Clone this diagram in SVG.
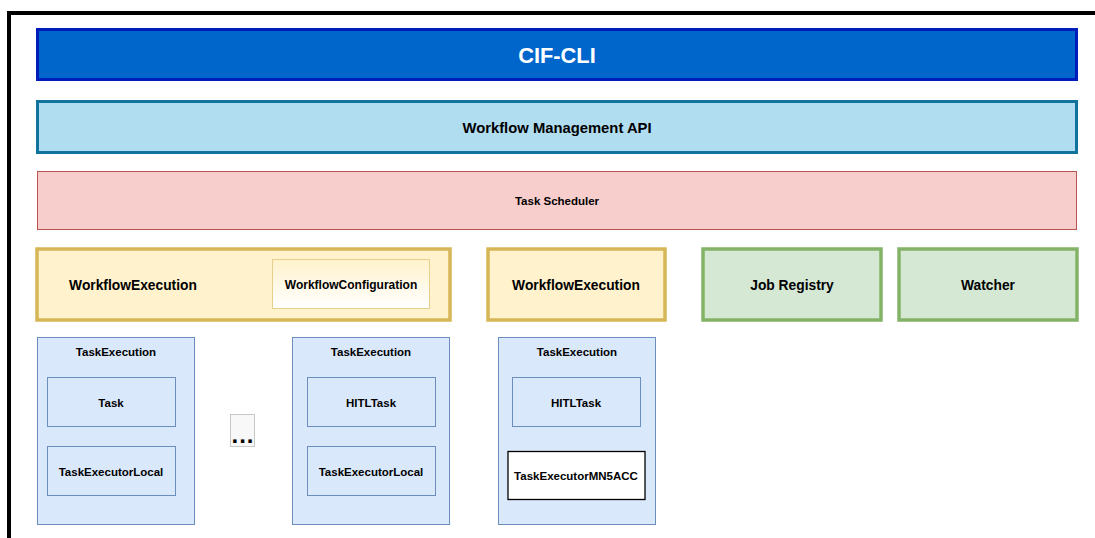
<svg xmlns="http://www.w3.org/2000/svg" width="1095" height="538" viewBox="0 0 1095 538">
<style>
text{font-family:"Liberation Sans",Arial,sans-serif;font-weight:bold;text-anchor:middle;dominant-baseline:central;fill:#000}
.te{fill:#DAE8FC;stroke:#6C8EBF;stroke-width:1}
.ti{fill:#DAE8FC;stroke:#6C8EBF;stroke-width:1}
.we{fill:#FFF2CC;stroke:#D6B656;stroke-width:3.5}
.gr{fill:#D5E8D4;stroke:#82B366;stroke-width:3.5}
.s11{font-size:11.5px}
.s14{font-size:13.8px}
</style>
<defs>
<linearGradient id="wcg" x1="0" y1="0" x2="0" y2="1">
<stop offset="0" stop-color="#FFF2CC"/>
<stop offset="1" stop-color="#FFFFFF"/>
</linearGradient>
</defs>
<rect width="1095" height="538" fill="#FFFFFF"/>
<path d="M9,540 V13 H1097" fill="none" stroke="#000" stroke-width="4"/>
<g id="cif-cli">
<rect x="37.5" y="29.5" width="1039" height="50" fill="#0066CC" stroke="#001DBC" stroke-width="3"/>
<text x="557" y="55" style="font-size:21.8px;fill:#FFFFFF">CIF-CLI</text>
</g>
<g id="workflow-management-api">
<rect x="37.5" y="101.5" width="1039" height="51" fill="#B1DDF0" stroke="#10739E" stroke-width="3"/>
<text x="557" y="128" style="font-size:14.8px">Workflow Management API</text>
</g>
<g id="task-scheduler">
<rect x="37.5" y="171.5" width="1039" height="58" fill="#F8CECC" stroke="#B85450" stroke-width="1"/>
<text x="557" y="201" style="font-size:11.5px">Task Scheduler</text>
</g>
<g id="workflow-execution-1">
<rect x="37" y="249" width="413" height="71" class="we"/>
<text x="133" y="285" class="s14">WorkflowExecution</text>
</g>
<g id="workflow-configuration">
<rect x="272.5" y="259.5" width="157" height="49" fill="url(#wcg)" stroke="#E6D08C" stroke-width="1"/>
<text x="351" y="285" style="font-size:12px">WorkflowConfiguration</text>
</g>
<g id="workflow-execution-2">
<rect x="488" y="249" width="177" height="71" class="we"/>
<text x="576" y="285" class="s14">WorkflowExecution</text>
</g>
<g id="job-registry">
<rect x="703" y="249" width="178" height="71" class="gr"/>
<text x="792" y="285" class="s14">Job Registry</text>
</g>
<g id="watcher">
<rect x="899" y="249" width="178" height="71" class="gr"/>
<text x="988" y="285" class="s14">Watcher</text>
</g>
<g id="task-execution-1">
<rect x="37.5" y="337.5" width="157" height="187" class="te"/>
<text x="116" y="352" class="s11">TaskExecution</text>
</g>
<g id="task-1">
<rect x="47.5" y="377.5" width="128" height="49" class="ti"/>
<text x="111" y="403" class="s11">Task</text>
</g>
<g id="task-executor-local-1">
<rect x="47.5" y="446.5" width="128" height="49" class="ti"/>
<text x="111" y="472" class="s11">TaskExecutorLocal</text>
</g>
<g id="ellipsis">
<rect x="230.5" y="414.5" width="24" height="32" fill="#F8F8F8" stroke="#C8C8C8" stroke-width="1"/>
<text x="243" y="434" style="font-size:24px;letter-spacing:1px">...</text>
</g>
<g id="task-execution-2">
<rect x="292.5" y="337.5" width="157" height="187" class="te"/>
<text x="371" y="352" class="s11">TaskExecution</text>
</g>
<g id="hitl-task-2">
<rect x="307.5" y="377.5" width="128" height="49" class="ti"/>
<text x="371" y="403" class="s11">HITLTask</text>
</g>
<g id="task-executor-local-2">
<rect x="307.5" y="446.5" width="128" height="49" class="ti"/>
<text x="371" y="472" class="s11">TaskExecutorLocal</text>
</g>
<g id="task-execution-3">
<rect x="498.5" y="337.5" width="157" height="187" class="te"/>
<text x="577" y="352" class="s11">TaskExecution</text>
</g>
<g id="hitl-task-3">
<rect x="512.5" y="377.5" width="128" height="49" class="ti"/>
<text x="576" y="403" class="s11">HITLTask</text>
</g>
<g id="task-executor-mn5acc">
<rect x="508" y="451.5" width="137" height="48" fill="#FFFFFF" stroke="#000000" stroke-width="1.3"/>
<text x="576" y="476" class="s11">TaskExecutorMN5ACC</text>
</g>
<g id="connectors"></g>
</svg>
